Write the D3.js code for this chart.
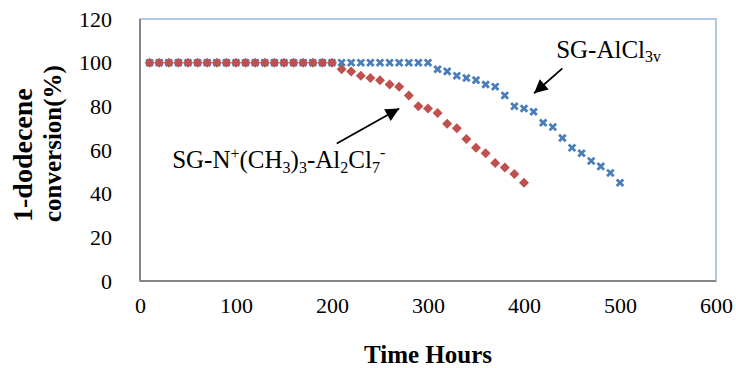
<!DOCTYPE html>
<html>
<head>
<meta charset="utf-8">
<script src="https://cdn.jsdelivr.net/npm/d3@7/dist/d3.min.js"></script>
<style>
  body { margin: 0; background: #fff; }
  text { font-family: "Liberation Serif", "Times New Roman", serif; fill: #000; }
  .axis path, .axis line { display: none; }
</style>
</head>
<body>
<svg id="chart" width="736" height="368"></svg>
<script>
// data (hours, % conversion)
const hoursRed = [10, 20, 30, 40, 50, 60, 70, 80, 90, 100, 110, 120, 130, 140, 150, 160, 170, 180, 190, 200,
  210, 220, 230, 240, 250, 260, 270, 280, 290, 300, 310, 320, 330, 340, 350, 360, 370, 380, 390, 400];
const convRed = [100, 100, 100, 100, 100, 100, 100, 100, 100, 100, 100, 100, 100, 100, 100, 100, 100, 100, 100, 100,
  97, 96, 94, 93, 92, 90, 89, 85, 80, 79, 77, 72, 70, 65, 61, 58.5, 54, 52, 49, 45];

const hoursBlue = [10, 20, 30, 40, 50, 60, 70, 80, 90, 100, 110, 120, 130, 140, 150, 160, 170, 180, 190, 200,
  210, 220, 230, 240, 250, 260, 270, 280, 290, 300, 310, 320, 330, 340, 350, 360, 370, 380, 390, 400,
  410, 420, 430, 440, 450, 460, 470, 480, 490, 500];
const convBlue = [100, 100, 100, 100, 100, 100, 100, 100, 100, 100, 100, 100, 100, 100, 100, 100, 100, 100, 100, 100,
  100, 100, 100, 100, 100, 100, 100, 100, 100, 100,
  97, 96, 94, 93, 92, 90, 89, 85, 80, 79, 77.5, 72.5, 70.5, 65.5, 61, 58.5, 55, 52.5, 49.5, 45];

const xTicks = [0, 100, 200, 300, 400, 500, 600];
const yTicks = [0, 20, 40, 60, 80, 100, 120];

const margin = {top: 19, right: 20, bottom: 87, left: 140};
const width = 736 - margin.left - margin.right;
const height = 368 - margin.top - margin.bottom;

const svg = d3.select("#chart");
const g = svg.append("g")
  .attr("transform", "translate(" + margin.left + "," + margin.top + ")");

const x = d3.scaleLinear().domain([0, 600]).range([0, width]);
const y = d3.scaleLinear().domain([0, 120]).range([height, 0]);

// plot area frame: light blue top/right, grey axes left/bottom
g.append("rect")
  .attr("x", 0).attr("y", 0)
  .attr("width", width).attr("height", height)
  .attr("fill", "#fff")
  .attr("stroke", "#b3c7e6")
  .attr("stroke-width", 2);

g.append("line")
  .attr("x1", 0).attr("x2", 0).attr("y1", 0).attr("y2", height)
  .attr("stroke", "#868686").attr("stroke-width", 2);
g.append("line")
  .attr("x1", 0).attr("x2", width).attr("y1", height).attr("y2", height)
  .attr("stroke", "#868686").attr("stroke-width", 2);

// axes
g.append("g")
  .attr("class", "axis")
  .call(d3.axisLeft(y).tickValues(yTicks).tickSize(0).tickPadding(28))
  .attr("font-family", "Liberation Serif")
  .attr("font-size", 22);

g.append("g")
  .attr("class", "axis")
  .attr("transform", "translate(0," + height + ")")
  .call(d3.axisBottom(x).tickValues(xTicks).tickSize(0).tickPadding(16))
  .attr("font-family", "Liberation Serif")
  .attr("font-size", 22);

// axis titles
svg.append("text")
  .attr("x", margin.left + width / 2)
  .attr("y", 363)
  .attr("text-anchor", "middle")
  .attr("font-weight", "bold")
  .attr("font-size", 25)
  .text("Time Hours");

const yTitle = svg.append("text")
  .attr("transform", "translate(32,222) rotate(-90)")
  .attr("font-weight", "bold")
  .attr("font-size", 25);
yTitle.append("tspan").attr("x", 0).attr("y", 0).attr("font-size", 28).text("1-dodecene");
yTitle.append("tspan").attr("x", 0).attr("y", 29).text("conversion(%)");

// blue series: x markers
const blue = hoursBlue.map((h, i) => [h, convBlue[i]]);
g.append("g").selectAll("path")
  .data(blue)
  .join("path")
  .attr("transform", d => "translate(" + x(d[0]) + "," + y(d[1]) + ")")
  .attr("d", "M-3.3,-3.3L3.3,3.3M-3.3,3.3L3.3,-3.3")
  .attr("stroke", "#4a7ebb")
  .attr("stroke-width", 2.8)
  .attr("fill", "none");

// red series: diamonds
const red = hoursRed.map((h, i) => [h, convRed[i]]);
g.append("g").selectAll("path")
  .data(red)
  .join("path")
  .attr("transform", d => "translate(" + x(d[0]) + "," + y(d[1]) + ")")
  .attr("d", "M0,-5L5,0L0,5L-5,0Z")
  .attr("fill", "#c0504d");

// annotations (in data units)
const arrowRed = {from: [205, 63], to: [270, 79]};
const arrowBlue = {from: [440, 97.4], to: [410.5, 86]};

svg.append("defs").append("marker")
  .attr("id", "head")
  .attr("viewBox", "0 0 10 10")
  .attr("refX", 10).attr("refY", 5)
  .attr("markerWidth", 8.5).attr("markerHeight", 7.5)
  .attr("markerUnits", "strokeWidth")
  .attr("orient", "auto")
  .append("path")
  .attr("d", "M0,0L10,5L0,10Z")
  .attr("fill", "#000");

[arrowRed, arrowBlue].forEach(a => {
  g.append("line")
    .attr("x1", x(a.from[0])).attr("y1", y(a.from[1]))
    .attr("x2", x(a.to[0])).attr("y2", y(a.to[1]))
    .attr("stroke", "#000")
    .attr("stroke-width", 1.8)
    .attr("marker-end", "url(#head)");
});

const labRed = g.append("text")
  .attr("x", x(33.5)).attr("y", y(51.8))
  .attr("font-size", 25);
labRed.append("tspan").text("SG-N");
labRed.append("tspan").attr("font-size", 16).attr("dy", -9).text("+");
labRed.append("tspan").attr("dy", 9).text("(CH");
labRed.append("tspan").attr("font-size", 16).attr("dy", 5).text("3");
labRed.append("tspan").attr("dy", -5).text(")");
labRed.append("tspan").attr("font-size", 16).attr("dy", 5).text("3");
labRed.append("tspan").attr("dy", -5).text("-Al");
labRed.append("tspan").attr("font-size", 16).attr("dy", 5).text("2");
labRed.append("tspan").attr("dy", -5).text("Cl");
labRed.append("tspan").attr("font-size", 16).attr("dy", 5).text("7");
labRed.append("tspan").attr("font-size", 16).attr("dy", -15).text("-");

const labBlue = g.append("text")
  .attr("x", x(433.5)).attr("y", y(102))
  .attr("font-size", 25);
labBlue.append("tspan").text("SG-AlCl");
labBlue.append("tspan").attr("font-size", 16).attr("dy", 4).text("3v");
</script>
</body>
</html>
